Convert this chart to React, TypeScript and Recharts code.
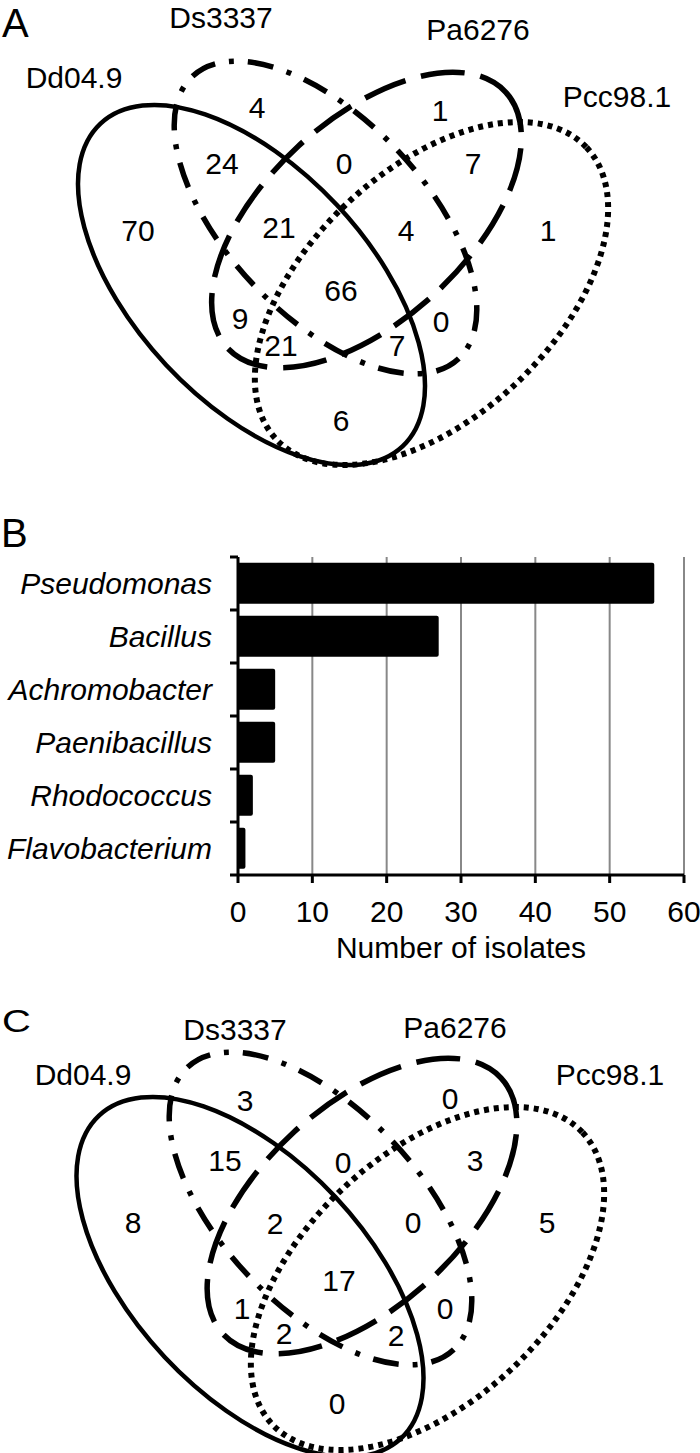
import { Bar, BarChart, CartesianGrid, Scatter, ScatterChart, XAxis, YAxis } from "recharts";

const FONT = '"Liberation Sans", Arial, Helvetica, sans-serif';

// Venn panels A and C
const setNames = ["Dd04.9", "Ds3337", "Pa6276", "Pcc98.1"];
const regionKeys = [
  "Dd", "Ds", "Pa", "Pcc",
  "Dd+Ds", "Dd+Pa", "Dd+Pcc", "Ds+Pa", "Ds+Pcc", "Pa+Pcc",
  "Dd+Ds+Pa", "Dd+Ds+Pcc", "Dd+Pa+Pcc", "Ds+Pa+Pcc", "all",
];
const countsA = [70, 4, 1, 1, 24, 9, 6, 0, 0, 7, 21, 7, 21, 4, 66];
const countsC = [8, 3, 0, 5, 15, 1, 0, 0, 0, 3, 2, 2, 2, 0, 17];

// Panel B
const genera = ["Pseudomonas", "Bacillus", "Achromobacter", "Paenibacillus", "Rhodococcus", "Flavobacterium"];
const isolates = [56, 27, 5, 5, 2, 1];
const isolateTicks = [0, 10, 20, 30, 40, 50, 60];

// layout of the venn panels (chart units == px)
const regionSpotsA = [
  [138, 230], [257, 107], [440, 110], [548, 230],
  [222, 163], [240, 318], [341, 420], [344, 163], [441, 321], [473, 163],
  [279, 227], [397, 345], [281, 345], [406, 230], [341, 290],
];
const regionSpotsC = [
  [133, 232], [245, 110], [450, 108], [547, 232],
  [225, 170], [242, 318], [337, 413], [343, 172], [445, 318], [475, 170],
  [275, 233], [396, 345], [284, 343], [413, 232], [339, 290],
];
const nameSpotsA = [[74, 88], [221, 28], [478, 40], [617, 107]];
const nameSpotsC = [[83, 95], [235, 50], [455, 48], [610, 95]];

const outlinesA = [
  { cx: 251.5, cy: 285, rx: 221, ry: 117, angle: 46.9 },
  { cx: 325.5, cy: 217.5, rx: 194, ry: 98.5, angle: 46.6 },
  { cx: 366.5, cy: 220, rx: 189, ry: 100.5, angle: -42.6 },
  { cx: 431.5, cy: 293.5, rx: 213, ry: 123.5, angle: -43.3 },
];
const outlinesC = [
  { cx: 250, cy: 287, rx: 221, ry: 117, angle: 46.9 },
  { cx: 320.5, cy: 218.5, rx: 194, ry: 98.5, angle: 46.6 },
  { cx: 362, cy: 216, rx: 189, ry: 100.5, angle: -42.6 },
  { cx: 427.5, cy: 288.5, rx: 213, ry: 123.5, angle: -43.3 },
];
const outlineStyles = [
  { sw: 4.5, dash: undefined },
  { sw: 5.5, dash: "26 14 5 14" },
  { sw: 5.5, dash: "44 16" },
  { sw: 6, dash: "5 5" },
];

const AXIS_X = 238;

function OutlineShape(props: any) {
  const { cx, cy, payload } = props;
  return (
    <ellipse
      cx={cx}
      cy={cy}
      rx={payload.rx}
      ry={payload.ry}
      transform={`rotate(${payload.angle} ${cx} ${cy})`}
      fill="none"
      stroke="#000"
      strokeWidth={payload.sw}
      strokeDasharray={payload.dash}
    />
  );
}

function CountShape(props: any) {
  const { cx, cy, payload } = props;
  return (
    <text x={cx} y={cy} dy="0.35em" textAnchor="middle" fontSize={30} fontFamily={FONT} fill="#000">
      {payload.label}
    </text>
  );
}

function NameShape(props: any) {
  const { cx, cy, payload } = props;
  return (
    <text x={cx} y={cy} textAnchor="middle" fontSize={30} fontFamily={FONT} fill="#000">
      {payload.label}
    </text>
  );
}

function VennPanel({
  counts,
  spots,
  nameSpots,
  outlines,
}: {
  counts: number[];
  spots: number[][];
  nameSpots: number[][];
  outlines: Array<{ cx: number; cy: number; rx: number; ry: number; angle: number }>;
}) {
  const outlineData = outlines.map((o, i) => ({ x: o.cx, y: o.cy, ...o, ...outlineStyles[i] }));
  const countData = counts.map((n, i) => ({ x: spots[i][0], y: spots[i][1], label: String(n), region: regionKeys[i] }));
  const nameData = setNames.map((name, i) => ({ x: nameSpots[i][0], y: nameSpots[i][1], label: name }));
  return (
    <ScatterChart width={700} height={470} margin={{ top: 0, right: 0, bottom: 0, left: 0 }}>
      <XAxis type="number" dataKey="x" domain={[0, 700]} hide />
      <YAxis type="number" dataKey="y" domain={[0, 470]} reversed hide />
      <Scatter data={outlineData} shape={OutlineShape} isAnimationActive={false} />
      <Scatter data={countData} shape={CountShape} isAnimationActive={false} />
      <Scatter data={nameData} shape={NameShape} isAnimationActive={false} />
    </ScatterChart>
  );
}

function GenusTick(props: any) {
  const { y, payload, index } = props;
  const half = payload && typeof payload.offset === "number" && payload.offset > 0 ? payload.offset : 26.5;
  return (
    <g>
      <line x1={AXIS_X - 8} x2={AXIS_X} y1={y - half} y2={y - half} stroke="#000" strokeWidth={3} />
      {index === genera.length - 1 && (
        <line x1={AXIS_X - 8} x2={AXIS_X} y1={y + half} y2={y + half} stroke="#000" strokeWidth={3} />
      )}
      <text x={AXIS_X - 26} y={y} dy="0.35em" textAnchor="end" fontStyle="italic" fontSize={30} fontFamily={FONT} fill="#000">
        {payload.value}
      </text>
    </g>
  );
}

function IsolatesBarChart() {
  const data = genera.map((genus, i) => ({ genus, n: isolates[i] }));
  return (
    <BarChart
      width={700}
      height={480}
      layout="vertical"
      data={data}
      margin={{ top: 57, right: 16, bottom: 15, left: 0 }}
      barCategoryGap="11%"
    >
      <CartesianGrid horizontal={false} stroke="#888" strokeWidth={2} />
      <XAxis
        type="number"
        domain={[0, 60]}
        ticks={isolateTicks}
        interval={0}
        height={90}
        tickSize={8}
        tickMargin={18}
        axisLine={{ stroke: "#000", strokeWidth: 3 }}
        tickLine={{ stroke: "#000", strokeWidth: 3 }}
        tick={{ fill: "#000", fontSize: 30, fontFamily: FONT }}
        label={{ value: "Number of isolates", position: "insideBottom", offset: 7, fill: "#000", fontSize: 30, fontFamily: FONT }}
      />
      <YAxis
        type="category"
        dataKey="genus"
        width={AXIS_X}
        interval={0}
        axisLine={{ stroke: "#000", strokeWidth: 3 }}
        tickLine={false}
        tick={GenusTick}
      />
      <Bar dataKey="n" fill="#000" radius={[0, 2, 2, 0]} isAnimationActive={false} />
    </BarChart>
  );
}

export default function App() {
  return (
    <div style={{ position: "absolute", left: 0, top: 0, width: 700, height: 1453, overflow: "hidden", background: "#fff" }}>
      <div style={{ position: "absolute", left: 0, top: 0 }}>
        <VennPanel counts={countsA} spots={regionSpotsA} nameSpots={nameSpotsA} outlines={outlinesA} />
      </div>
      <div style={{ position: "absolute", left: 0, top: 500 }}>
        <IsolatesBarChart />
      </div>
      <div style={{ position: "absolute", left: 0, top: 990 }}>
        <VennPanel counts={countsC} spots={regionSpotsC} nameSpots={nameSpotsC} outlines={outlinesC} />
      </div>
      <svg width={700} height={1453} style={{ position: "absolute", left: 0, top: 0, pointerEvents: "none" }}>
        <text x={2} y={37} fontSize={40} fontFamily={FONT} fill="#000">A</text>
        <text x={1} y={547} fontSize={40} fontFamily={FONT} fill="#000">B</text>
        <text transform="translate(2 1032) scale(1 0.78)" x={0} y={0} fontSize={40} fontFamily={FONT} fill="#000">C</text>
      </svg>
    </div>
  );
}
